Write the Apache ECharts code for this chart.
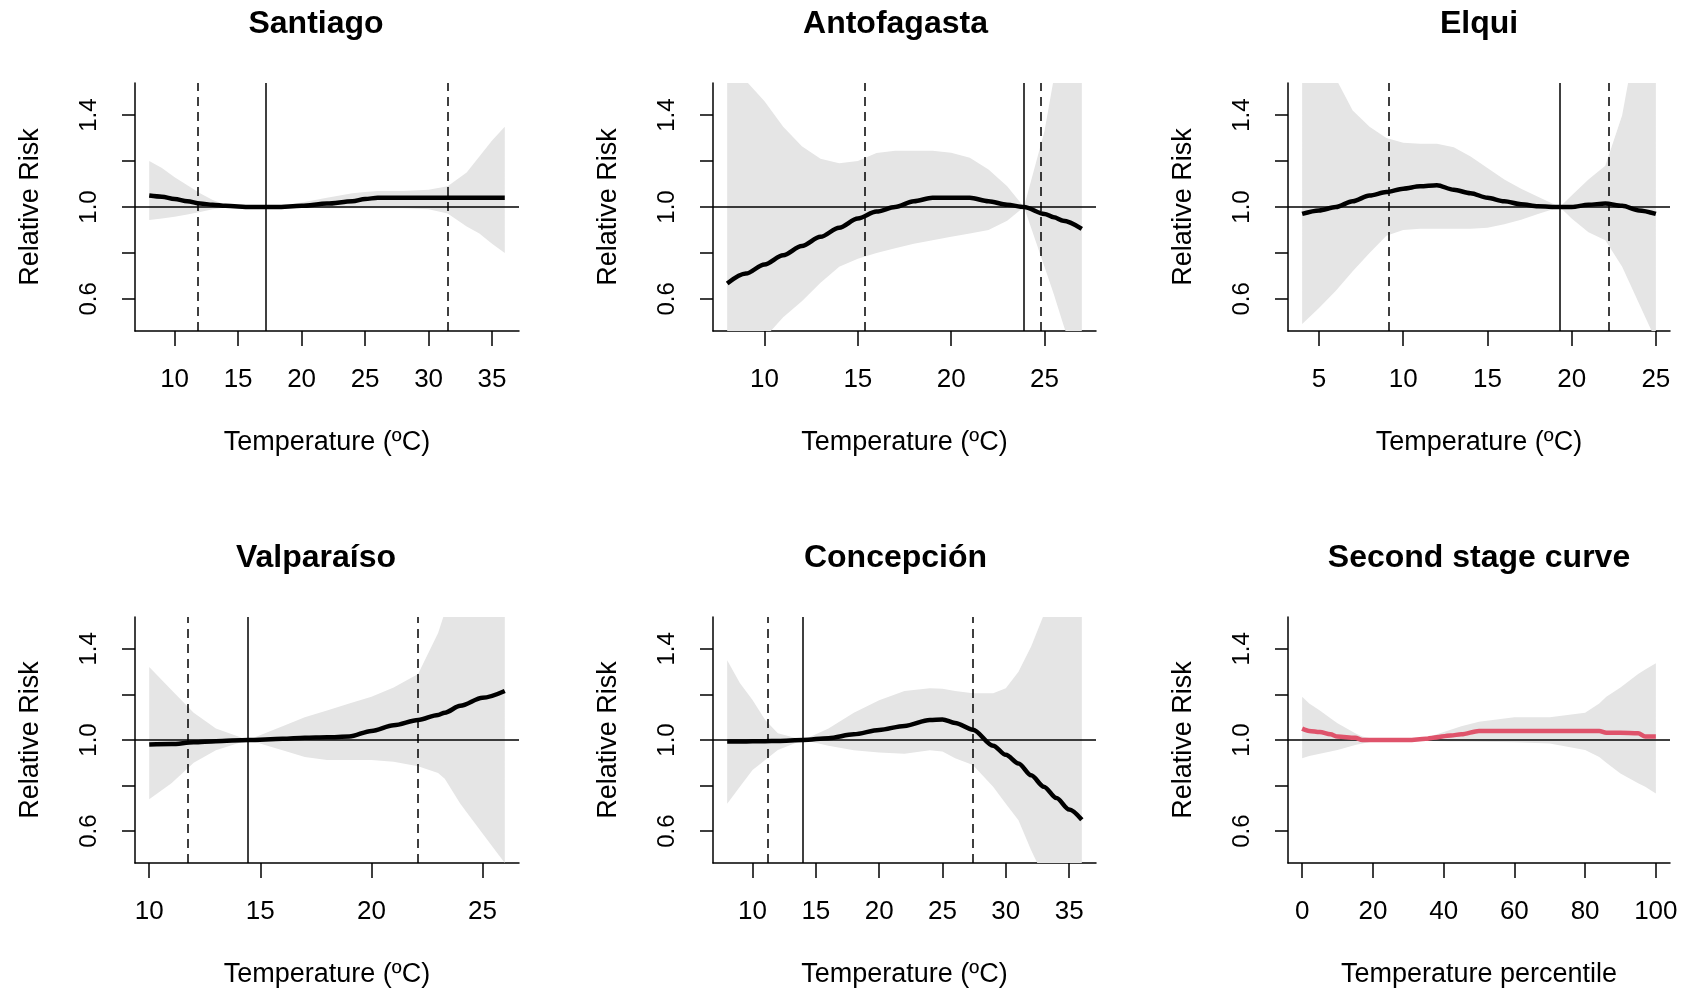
<!DOCTYPE html>
<html lang="en">

<head>
  <meta charset="UTF-8">
  <title>Relative Risk by temperature</title>
  <style>
    html, body { margin: 0; padding: 0; background: #fff; }
    #main { width: 1681px; height: 990px; }
  </style>
</head>

<body>
  <div id="main"></div>

  <script src="https://cdn.jsdelivr.net/npm/echarts@6.0.0/dist/echarts.min.js"></script>

  <script>
    // ---- data ----
    const santiagoTemp = [8, 9, 10, 11, 12, 13, 14, 16, 18, 20, 22, 24, 25, 26, 28, 30, 31.5, 33, 34, 35, 36]
    const santiagoRR   = [1.05, 1.045, 1.035, 1.025, 1.015, 1.01, 1.005, 1.0, 1.0, 1.005, 1.015, 1.025, 1.035, 1.04, 1.04, 1.04, 1.04, 1.04, 1.04, 1.04, 1.04]
    const santiagoHigh = [1.20, 1.17, 1.13, 1.095, 1.06, 1.03, 1.01, 1.0, 1.0, 1.02, 1.04, 1.06, 1.065, 1.07, 1.07, 1.075, 1.09, 1.15, 1.22, 1.29, 1.35]
    const santiagoLow  = [0.943, 0.95, 0.957, 0.967, 0.978, 0.99, 0.998, 1.0, 1.0, 0.998, 0.995, 0.995, 0.995, 0.995, 0.995, 0.99, 0.972, 0.915, 0.885, 0.84, 0.80]
    const santiagoCuts = [11.8, 31.5]
    const santiagoMMT  = 17.2

    const antofagastaTemp = [8, 9, 10, 11, 12, 13, 14, 15, 16, 17, 18, 19, 20, 21, 22, 23, 23.9, 25, 25.5, 26, 27]
    const antofagastaRR   = [0.667, 0.71, 0.75, 0.79, 0.83, 0.87, 0.91, 0.95, 0.98, 1.0, 1.025, 1.04, 1.04, 1.04, 1.025, 1.01, 1.0, 0.97, 0.955, 0.94, 0.905]
    const antofagastaHigh = [1.75, 1.55, 1.46, 1.35, 1.265, 1.21, 1.19, 1.2, 1.235, 1.245, 1.245, 1.245, 1.236, 1.215, 1.163, 1.09, 1.0, 1.33, 1.56, 1.8, 2.1]
    const antofagastaLow  = [0.2, 0.32, 0.43, 0.52, 0.59, 0.67, 0.74, 0.775, 0.8, 0.82, 0.84, 0.855, 0.87, 0.885, 0.9, 0.94, 1.0, 0.74, 0.62, 0.49, 0.25]
    const antofagastaCuts = [15.35, 24.8]
    const antofagastaMMT  = 23.9

    const elquiTemp = [4, 5, 6, 7, 8, 9, 10, 11, 12, 13, 14, 15, 16, 17, 18, 19.3, 20, 21, 22, 23, 24, 25]
    const elquiRR   = [0.97, 0.985, 1.0, 1.025, 1.05, 1.065, 1.08, 1.09, 1.095, 1.075, 1.06, 1.04, 1.025, 1.012, 1.003, 1.0, 1.0, 1.01, 1.015, 1.005, 0.985, 0.97]
    const elquiHigh = [1.8, 1.7, 1.56, 1.42, 1.35, 1.3, 1.28, 1.275, 1.275, 1.26, 1.22, 1.17, 1.12, 1.08, 1.045, 1.0, 1.05, 1.12, 1.18, 1.4, 1.8, 2.0]
    const elquiLow  = [0.49, 0.56, 0.635, 0.72, 0.8, 0.875, 0.9, 0.905, 0.905, 0.905, 0.905, 0.91, 0.925, 0.945, 0.97, 1.0, 0.95, 0.89, 0.855, 0.74, 0.58, 0.42]
    const elquiCuts = [9.15, 22.2]
    const elquiMMT  = 19.3

    const valparaisoTemp = [10, 11, 12, 13, 14.45, 16, 17, 18, 19, 20, 21, 22.1, 23, 23.3, 24, 25, 26]
    const valparaisoRR   = [0.98, 0.982, 0.99, 0.995, 1.0, 1.005, 1.01, 1.012, 1.015, 1.04, 1.065, 1.088, 1.11, 1.12, 1.15, 1.185, 1.215]
    const valparaisoHigh = [1.32, 1.22, 1.12, 1.05, 1.0, 1.06, 1.1, 1.13, 1.16, 1.19, 1.23, 1.29, 1.47, 1.56, 1.8, 2.0, 2.2]
    const valparaisoLow  = [0.74, 0.81, 0.9, 0.955, 1.0, 0.955, 0.925, 0.912, 0.912, 0.912, 0.905, 0.885, 0.855, 0.83, 0.72, 0.59, 0.46]
    const valparaisoCuts = [11.72, 22.1]
    const valparaisoMMT  = 14.45

    const concepcionTemp = [8, 9, 10, 11, 12, 14, 16, 18, 20, 22, 24, 25, 26, 27.4, 29, 30, 31, 32, 33, 34, 35, 36]
    const concepcionRR   = [0.993, 0.993, 0.994, 0.995, 0.996, 1.0, 1.008, 1.025, 1.044, 1.062, 1.088, 1.09, 1.075, 1.045, 0.975, 0.935, 0.897, 0.845, 0.795, 0.745, 0.695, 0.65]
    const concepcionHigh = [1.35, 1.25, 1.176, 1.088, 1.03, 1.0, 1.05, 1.12, 1.175, 1.215, 1.227, 1.225, 1.215, 1.205, 1.205, 1.227, 1.3, 1.41, 1.55, 1.7, 1.85, 2.0]
    const concepcionLow  = [0.72, 0.795, 0.868, 0.912, 0.956, 1.0, 0.975, 0.955, 0.945, 0.94, 0.955, 0.95, 0.92, 0.89, 0.795, 0.72, 0.648, 0.516, 0.4, 0.3, 0.2, 0.1]
    const concepcionCuts = [11.2, 27.4]
    const concepcionMMT  = 14.0

    const secondPct  = [0, 2, 5, 8, 10, 15, 17, 20, 30, 35, 37, 42, 45, 50, 60, 70, 80, 84, 86, 90, 95, 97, 100]
    const secondRR   = [1.05, 1.04, 1.035, 1.025, 1.015, 1.01, 1.0, 1.0, 1.0, 1.005, 1.01, 1.02, 1.025, 1.04, 1.04, 1.04, 1.04, 1.04, 1.032, 1.032, 1.03, 1.015, 1.015]
    const secondHigh = [1.19, 1.16, 1.13, 1.095, 1.073, 1.03, 1.015, 1.005, 1.0, 1.005, 1.02, 1.045, 1.06, 1.08, 1.1, 1.1, 1.12, 1.16, 1.19, 1.23, 1.29, 1.31, 1.337]
    const secondLow  = [0.92, 0.93, 0.94, 0.95, 0.956, 0.978, 0.985, 0.993, 0.998, 0.998, 0.996, 0.993, 0.993, 0.992, 0.99, 0.985, 0.956, 0.925, 0.9, 0.853, 0.81, 0.795, 0.765]

    // tick labels
    const ticks8to36 = [10, 15, 20, 25, 30, 35]
    const ticksAnto  = [10, 15, 20, 25]
    const ticksElqui = [5, 10, 15, 20, 25]
    const ticksValpo = [10, 15, 20, 25]
    const ticksPct   = [0, 20, 40, 60, 80, 100]
    const yTicks     = [0.6, 0.8, 1.0, 1.2, 1.4]
    const yLabels    = [0.6, 1.0, 1.4]
    const yRange     = [0.5, 1.5]

    const panels = [
      { title: 'Santiago', x: santiagoTemp, rr: santiagoRR, high: santiagoHigh, low: santiagoLow, cuts: santiagoCuts, mmt: santiagoMMT, ticks: ticks8to36, xName: 'Temperature (ºC)', color: '#000' },
      { title: 'Antofagasta', x: antofagastaTemp, rr: antofagastaRR, high: antofagastaHigh, low: antofagastaLow, cuts: antofagastaCuts, mmt: antofagastaMMT, ticks: ticksAnto, xName: 'Temperature (ºC)', color: '#000' },
      { title: 'Elqui', x: elquiTemp, rr: elquiRR, high: elquiHigh, low: elquiLow, cuts: elquiCuts, mmt: elquiMMT, ticks: ticksElqui, xName: 'Temperature (ºC)', color: '#000' },
      { title: 'Valparaíso', x: valparaisoTemp, rr: valparaisoRR, high: valparaisoHigh, low: valparaisoLow, cuts: valparaisoCuts, mmt: valparaisoMMT, ticks: ticksValpo, xName: 'Temperature (ºC)', color: '#000' },
      { title: 'Concepción', x: concepcionTemp, rr: concepcionRR, high: concepcionHigh, low: concepcionLow, cuts: concepcionCuts, mmt: concepcionMMT, ticks: ticks8to36, xName: 'Temperature (ºC)', color: '#000' },
      { title: 'Second stage curve', x: secondPct, rr: secondRR, high: secondHigh, low: secondLow, cuts: [], mmt: null, ticks: ticksPct, xName: 'Temperature percentile', color: '#DF536B' }
    ]

    const colLeft = [135, 713, 1288]
    const colWidth = [384, 383, 382]
    const titleShift = [-11, -9, 0]
    const rowTop = [83, 617]
    const rowHeight = [248, 246]
    const font = 'Liberation Sans, Arial, sans-serif'

    const grid = [], xAxis = [], yAxis = [], series = [], title = []

    panels.forEach(function (p, i) {
      const col = i % 3, row = Math.floor(i / 3)
      grid.push({ left: colLeft[col], top: rowTop[row], width: colWidth[col], height: rowHeight[row] })

      // R style 4% axis expansion
      const xmin = p.x[0], xmax = p.x[p.x.length - 1]
      const xpad = (xmax - xmin) * 0.04
      const ypad = (yRange[1] - yRange[0]) * 0.04

      title.push({
        text: p.title,
        left: colLeft[col] + colWidth[col] / 2 + titleShift[col],
        top: row === 0 ? 8 : 542,
        textAlign: 'center',
        padding: 0,
        textStyle: { fontSize: 32, fontWeight: 'bold', color: '#000', fontFamily: font }
      })

      xAxis.push({
        type: 'value', gridIndex: i,
        min: xmin - xpad, max: xmax + xpad,
        name: p.xName, nameLocation: 'middle', nameGap: 98,
        nameTextStyle: { fontSize: 27, color: '#000', fontFamily: font },
        axisLine: { show: true, onZero: false, lineStyle: { color: '#000', width: 1.5 } },
        axisTick: { show: true, inside: false, length: 15, customValues: p.ticks, lineStyle: { color: '#000', width: 1.5 } },
        axisLabel: { customValues: p.ticks, margin: 36, fontSize: 26, color: '#000', fontFamily: font },
        splitLine: { show: false }
      })

      yAxis.push({
        type: 'value', gridIndex: i,
        min: yRange[0] - ypad, max: yRange[1] + ypad,
        name: 'Relative Risk', nameLocation: 'middle', nameGap: 91,
        nameTextStyle: { fontSize: 27, color: '#000', fontFamily: font },
        axisLine: { show: true, onZero: false, lineStyle: { color: '#000', width: 1.5 } },
        axisTick: { show: true, inside: false, length: 13, customValues: yTicks, lineStyle: { color: '#000', width: 1.5 } },
        axisLabel: {
          customValues: yLabels, rotate: 90, margin: 34, fontSize: 24, color: '#000', fontFamily: font,
          formatter: function (v) { return v.toFixed(1) }
        },
        splitLine: { show: false }
      })

      // confidence band as one polygon
      series.push({
        type: 'custom', xAxisIndex: i, yAxisIndex: i, silent: true, z: 1,
        data: [0],
        renderItem: function (params, api) {
          const pts = []
          p.x.forEach(function (x, k) { pts.push(api.coord([x, p.high[k]])) })
          for (let k = p.x.length - 1; k >= 0; k--) pts.push(api.coord([p.x[k], p.low[k]]))
          const cs = params.coordSys
          return {
            type: 'polygon',
            shape: { points: pts },
            style: { fill: '#E5E5E5' },
            clipPath: { type: 'rect', shape: { x: cs.x, y: cs.y, width: cs.width, height: cs.height } }
          }
        }
      })

      // reference lines
      const lines = [{ yAxis: 1, lineStyle: { type: 'solid' } }]
      if (p.mmt !== null) lines.push({ xAxis: p.mmt, lineStyle: { type: 'solid' } })
      p.cuts.forEach(function (c) { lines.push({ xAxis: c, lineStyle: { type: [9, 6] } }) })
      series.push({
        type: 'line', xAxisIndex: i, yAxisIndex: i, data: [], silent: true,
        markLine: {
          silent: true, symbol: 'none', z: 2, animation: false,
          label: { show: false },
          lineStyle: { color: '#000', width: 1.5 },
          data: lines
        }
      })

      // relative risk curve
      series.push({
        type: 'line', xAxisIndex: i, yAxisIndex: i, z: 3,
        data: p.x.map(function (x, k) { return [x, p.rr[k]] }),
        showSymbol: false, smooth: 0.3, smoothMonotone: 'x',
        lineStyle: { color: p.color, width: 4.5 },
        itemStyle: { color: p.color }
      })
    })

    const myChart = echarts.init(document.getElementById('main'))
    myChart.setOption({
      animation: false,
      backgroundColor: '#fff',
      title: title,
      grid: grid,
      xAxis: xAxis,
      yAxis: yAxis,
      series: series
    })
  </script>
</body>

</html>
